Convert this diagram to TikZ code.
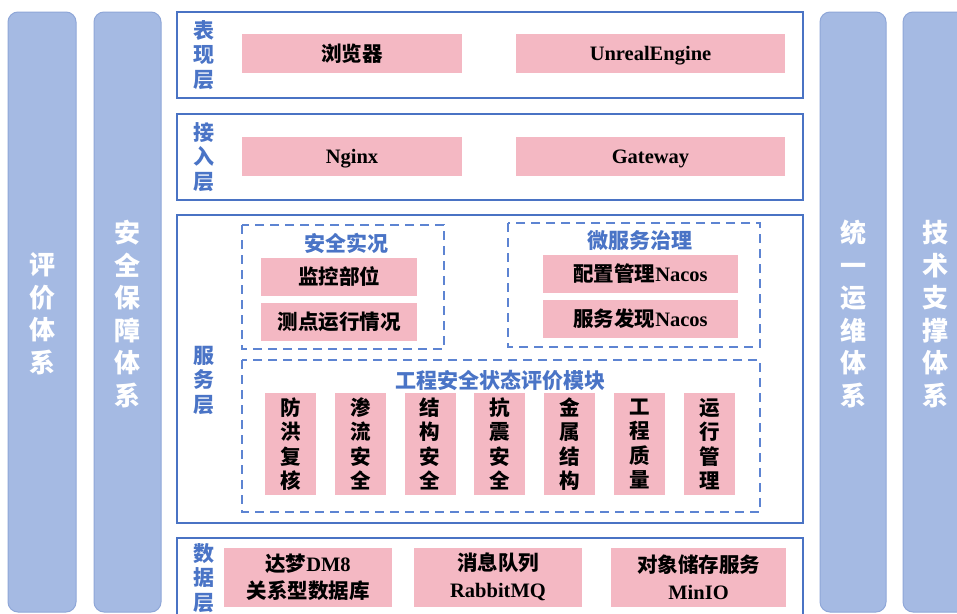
\documentclass[tikz,border=0pt]{standalone}
\usepackage{fontspec}
\setmainfont{Noto Sans CJK SC}
\newfontfamily\lat{Liberation Serif}
\definecolor{pillarfill}{HTML}{A5BAE3}
\definecolor{pillardraw}{HTML}{8FA7D8}
\definecolor{layerblue}{HTML}{4A73C4}
\definecolor{pinkfill}{HTML}{F4B8C3}
\definecolor{dashblue}{HTML}{5D84D2}
\definecolor{labelblue}{HTML}{4A74C6}
\begin{document}
\begin{tikzpicture}[x=1pt,y=-1pt,
  pillar/.style={fill=pillarfill,draw=pillardraw,line width=1pt,rounded corners=10pt},
  pillartext/.style={text=white,font=\fontsize{26}{32.5}\selectfont\bfseries,align=center,inner sep=0pt},
  layerbox/.style={draw=layerblue,line width=2pt,fill=white},
  layerlabel/.style={text=labelblue,font=\fontsize{21}{24.5}\selectfont\bfseries,align=center,inner sep=0pt},
  pinkbox/.style={fill=pinkfill,draw=none},
  pinktext/.style={text=black,font=\fontsize{20.5}{27}\selectfont\bfseries,align=center,inner sep=0pt},
  vtext/.style={text=black,font=\fontsize{20.5}{24.5}\selectfont\bfseries,align=center,inner sep=0pt},
  dashbox/.style={draw=dashblue,line width=1.6pt,dash pattern=on 9pt off 6pt},
  titletext/.style={text=labelblue,font=\fontsize{21}{24}\selectfont\bfseries,inner sep=0pt}
]
\useasboundingbox (0,0) rectangle (957,613);
\clip (0,0) rectangle (957,613);
\fill[white] (0,0) rectangle (957,613);

% pillars
\path[pillar] (8,12) rectangle (76,612);
\path[pillar] (94,12) rectangle (161,612);
\path[pillar] (820,12) rectangle (886,612);
\path[pillar] (903,12) rectangle (975,612);
\node[pillartext] (p1) at (42,314) {评\\价\\体\\系};
\node[pillartext] (p2) at (127,314) {安\\全\\保\\障\\体\\系};
\node[pillartext] (p3) at (853,314) {统\\一\\运\\维\\体\\系};
\node[pillartext] (p4) at (935,314) {技\\术\\支\\撑\\体\\系};

% layer boxes
\path[layerbox] (177,12) rectangle (803,98);
\path[layerbox] (177,114) rectangle (803,200);
\path[layerbox] (177,215) rectangle (803,523);
\path[layerbox] (177,538) rectangle (803,630);

\node[layerlabel] (l1) at (204,55) {表\\现\\层};
\node[layerlabel] (l2) at (204,157) {接\\入\\层};
\node[layerlabel] (l3) at (204,380) {服\\务\\层};
\node[layerlabel] (l4) at (204,578) {数\\据\\层};

% presentation layer
\path[pinkbox] (242,34) rectangle (462,73);
\node[pinktext] (browser) at (352,53.5) {浏览器};
\path[pinkbox] (516,34) rectangle (785,73);
\node[pinktext] (ue) at (650.5,55.5) {\lat\bfseries UnrealEngine};

% access layer
\path[pinkbox] (242,137) rectangle (462,176);
\node[pinktext] (nginx) at (352,158.5) {\lat\bfseries Nginx};
\path[pinkbox] (516,137) rectangle (785,176);
\node[pinktext] (gw) at (650.5,158.5) {\lat\bfseries Gateway};

% service layer
\path[dashbox] (242,225) rectangle (444,349);
\node[titletext] (t1) at (346,243) {安全实况};
\path[pinkbox] (261,258) rectangle (417,296);
\node[pinktext] (jk) at (339,277) {监控部位};
\path[pinkbox] (261,303) rectangle (417,341);
\node[pinktext] (cd) at (339,322) {测点运行情况};

\path[dashbox] (508,223) rectangle (760,347);
\node[titletext] (t2) at (640,241) {微服务治理};
\path[pinkbox] (543,255) rectangle (738,293);
\node[pinktext] (pz) at (640.5,274) {配置管理{\lat\bfseries Nacos}};
\path[pinkbox] (543,300) rectangle (738,338);
\node[pinktext] (fw) at (640.5,319) {服务发现{\lat\bfseries Nacos}};

\path[dashbox] (242,360) rectangle (760,512);
\node[titletext] (t3) at (500,380) {工程安全状态评价模块};
\foreach \i/\txt in {0/防\\洪\\复\\核,1/渗\\流\\安\\全,2/结\\构\\安\\全,3/抗\\震\\安\\全,4/金\\属\\结\\构,5/工\\程\\质\\量,6/运\\行\\管\\理}{
  \path[pinkbox] ({265+69.8*\i},393) rectangle ({316+69.8*\i},495);
  \node[vtext] (m\i) at ({290.5+69.8*\i},444) {\txt};
}

% data layer
\path[pinkbox] (224,548) rectangle (392,607);
\node[pinktext] (dm) at (308,577) {达梦{\lat\bfseries DM8}\\关系型数据库};
\path[pinkbox] (414,548) rectangle (582,607);
\node[pinktext] (mq) at (498,577) {消息队列\\{\lat\bfseries RabbitMQ}};
\path[pinkbox] (611,548) rectangle (786,607);
\node[pinktext] (mi) at (698.5,577) {对象储存服务\\{\lat\bfseries MinIO}};
\end{tikzpicture}
\end{document}
